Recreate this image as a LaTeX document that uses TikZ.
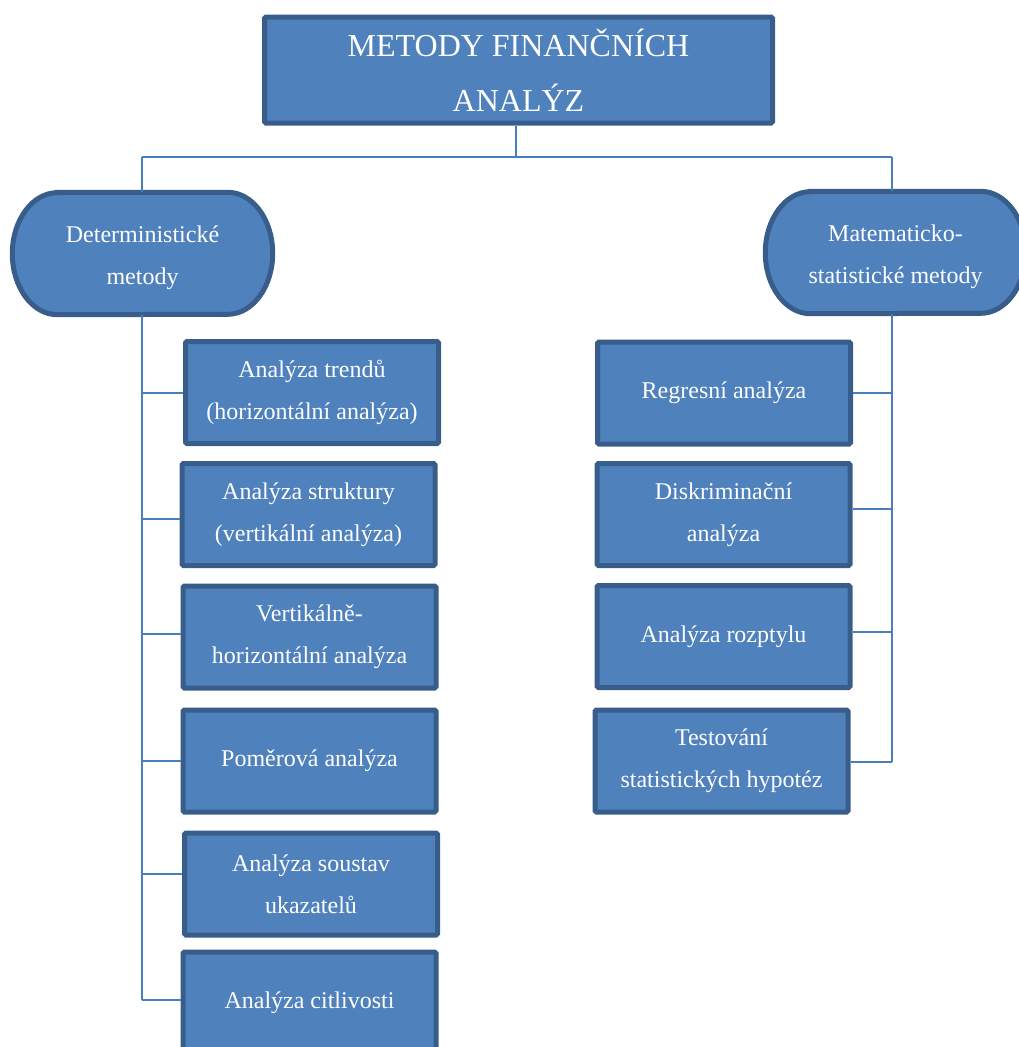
\documentclass[tikz,border=0pt]{standalone}
\usepackage{fontspec}
\setmainfont{Liberation Serif}
\usetikzlibrary{calc}
\definecolor{boxfill}{HTML}{4F81BD}
\definecolor{boxedge}{HTML}{385D8A}
\definecolor{linkblue}{HTML}{4A7EBB}
% outline of a rounded terminal with elliptical ends around node #1
\newcommand\pillpath[1]{%
  \draw[pilldraw] ($(#1.north west)+(45pt,0)$) -- ($(#1.north east)+(-45pt,0)$)
    arc[start angle=90, end angle=-90, x radius=45pt, y radius=61pt]
    -- ($(#1.south west)+(45pt,0)$)
    arc[start angle=270, end angle=90, x radius=45pt, y radius=61pt] -- cycle;}
\begin{document}
\begin{tikzpicture}[x=1pt,y=-1pt,
  box/.style={draw=boxedge, fill=boxfill, line width=5pt, text=white,
    align=center, font=\fontsize{24}{42}\selectfont, inner sep=0pt,
    rounded corners=1.5pt, minimum width=253pt, minimum height=102pt},
  pillframe/.style={inner sep=0pt, minimum width=260pt, minimum height=122pt},
  pilldraw/.style={draw=boxedge, fill=boxfill, line width=5pt},
  pilltext/.style={text=white, align=center, inner sep=0pt,
    font=\fontsize{24}{42}\selectfont},
  titlebox/.style={box, font=\fontsize{32}{55}\selectfont,
    minimum width=508pt, minimum height=106pt},
  link/.style={draw=linkblue, line width=2pt}]
\useasboundingbox (0,0) rectangle (1019,1047);
\clip (0,0) rectangle (1019,1047);

% root
\node[titlebox] (T) at (518.5,70) {METODY FINANČNÍCH\\ANALÝZ};

% two families of methods
\node[pillframe] (D) at (142.5,253.5) {};
\pillpath{D}
\node[pilltext] (Dt) at ([yshift=-4pt]D.center) {Deterministické\\metody};
\node[pillframe] (M) at (895.5,252.5) {};
\pillpath{M}
\node[pilltext] (Mt) at ([yshift=-4pt]M.center) {Matematicko-\\statistické metody};

% deterministic methods
\node[box] (L1) at (312,392.5) {Analýza trendů\\(horizontální analýza)};
\node[box] (L2) at (308.5,514.5) {Analýza struktury\\(vertikální analýza)};
\node[box] (L3) at (309.5,637) {Vertikálně-\\horizontální analýza};
\node[box] (L4) at (309.5,761) {Poměrová analýza};
\node[box] (L5) at (311,884) {Analýza soustav\\ukazatelů};
\node[box] (L6) at (309.5,1003) {Analýza citlivosti};

% mathematical-statistical methods
\node[box] (R1) at (724,393) {Regresní analýza};
\node[box] (R2) at (723.5,514.5) {Diskriminační\\analýza};
\node[box] (R3) at (723.5,636.5) {Analýza rozptylu};
\node[box] (R4) at (721.5,761) {Testování\\statistických hypotéz};

% bus from the root to both families
\coordinate (bus) at ([xshift=-2.5pt]T.south |- 0,157);
\coordinate (busL) at (142,157);
\coordinate (busR) at (892,157);
\draw[link] ([xshift=-2.5pt]T.south) -- (bus);
\draw[link] (busL) -- (busR);
\draw[link] (busL) -- (busL |- D.north);
\draw[link] (busR) -- (busR |- M.north);

% left spine and branches
\coordinate (lspine) at (142,1000);
\draw[link] (D.south -| busL) -- (lspine);
\draw[link] (L1.west) -- (L1.west -| busL);
\draw[link] ([yshift=-4pt]L2.west) -- ([yshift=-4pt]L2.west -| busL);
\draw[link] ([yshift=3pt]L3.west) -- ([yshift=3pt]L3.west -| busL);
\draw[link] (L4.west) -- (L4.west -| busL);
\draw[link] ([yshift=10pt]L5.west) -- ([yshift=10pt]L5.west -| busL);
\draw[link] ([yshift=3pt]L6.west) -- (lspine);

% right spine and branches
\coordinate (rspine) at (892,762);
\draw[link] (M.south -| busR) -- (rspine);
\draw[link] (R1.east) -- (R1.east -| busR);
\draw[link] ([yshift=5.5pt]R2.east) -- ([yshift=5.5pt]R2.east -| busR);
\draw[link] ([yshift=4.5pt]R3.east) -- ([yshift=4.5pt]R3.east -| busR);
\draw[link] ([yshift=-1pt]R4.east) -- (rspine);
\end{tikzpicture}
\end{document}
